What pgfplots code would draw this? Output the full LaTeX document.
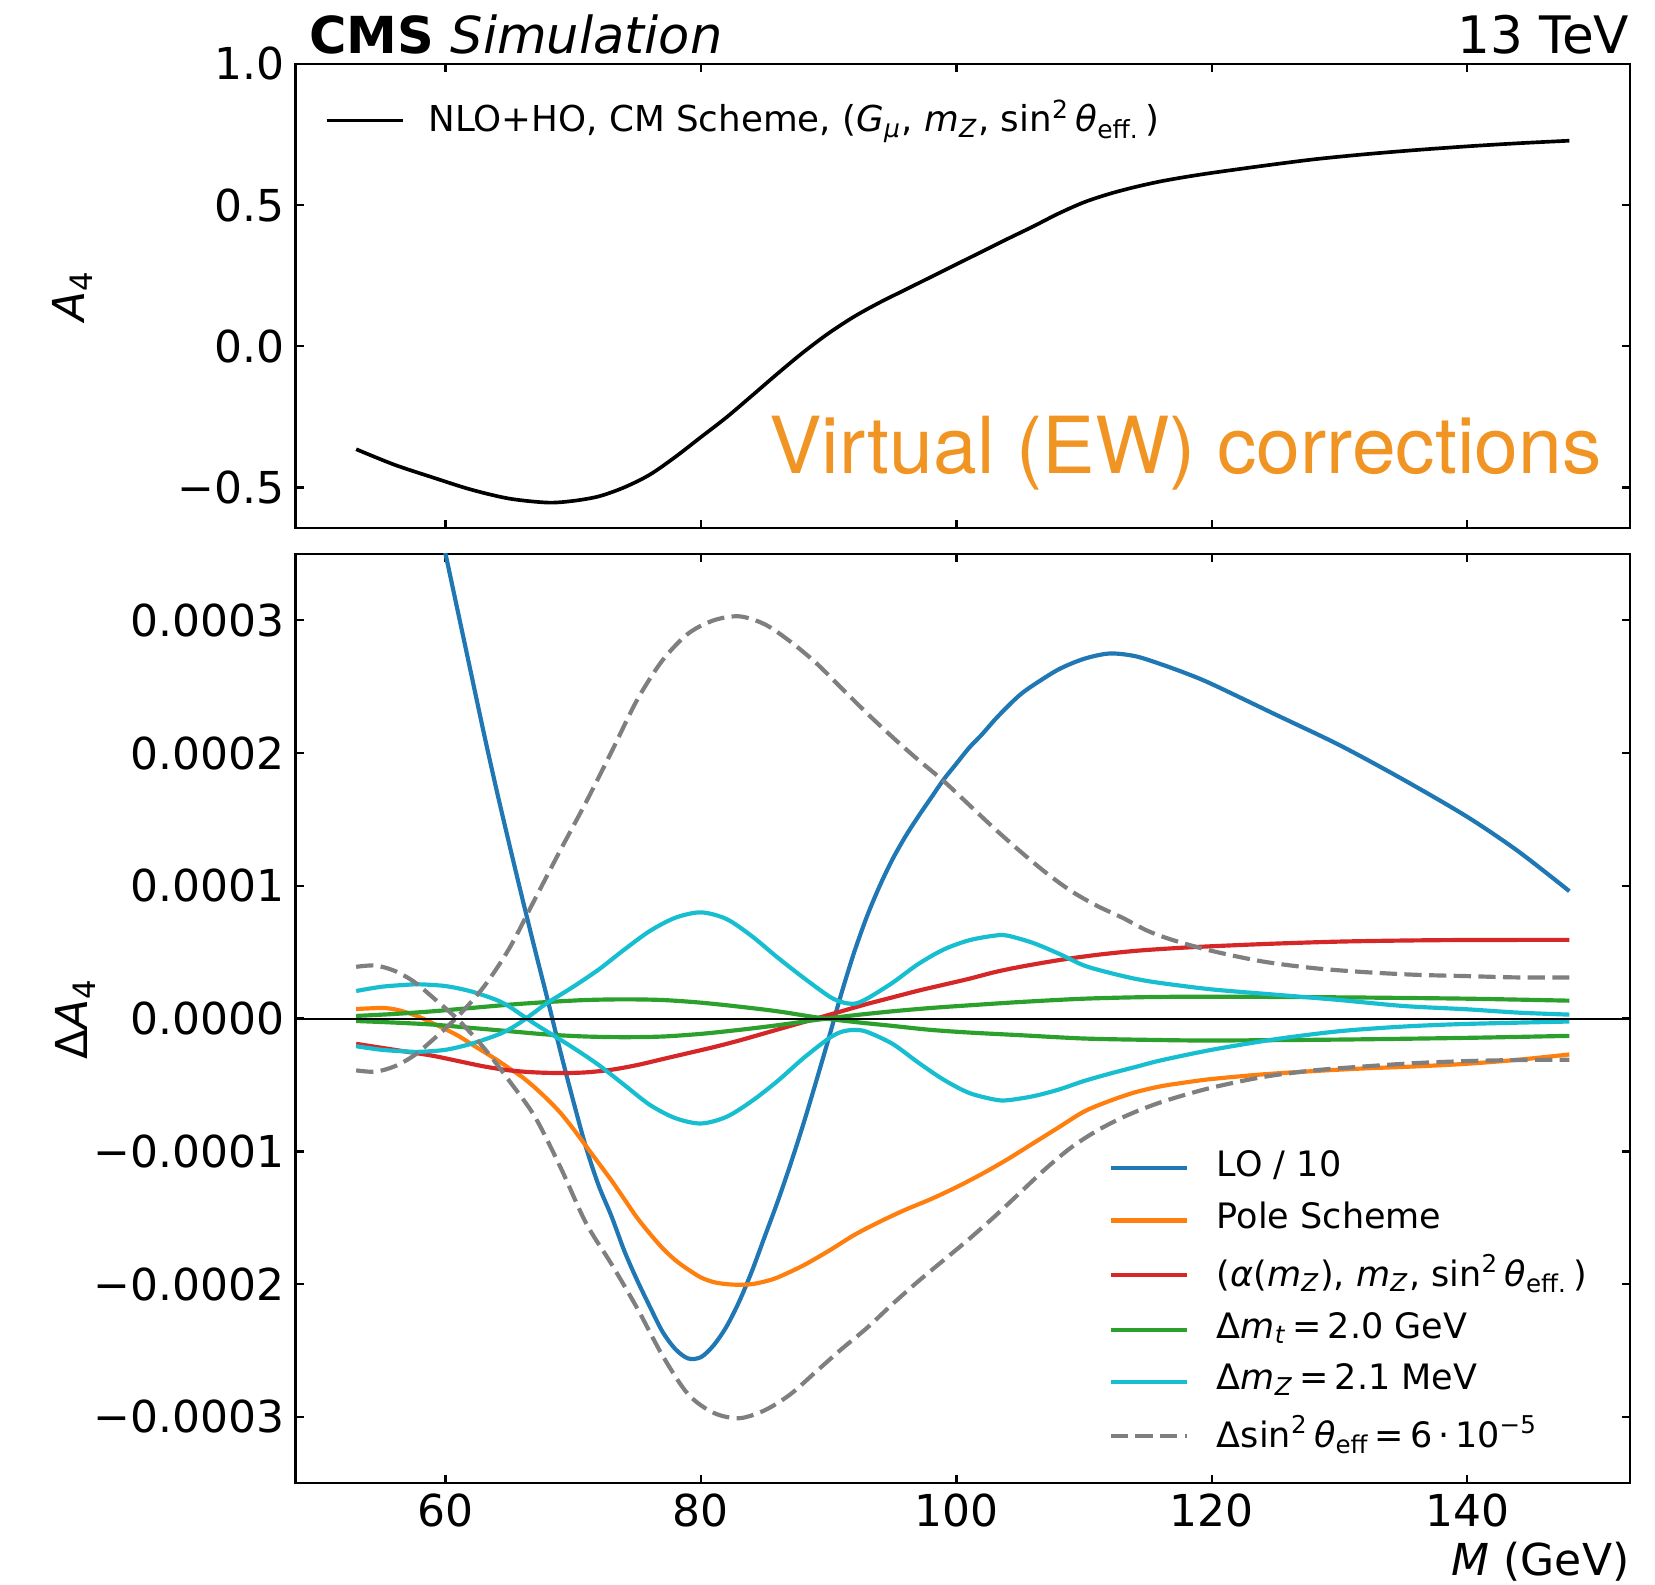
\documentclass[border=0pt]{standalone}
\usepackage{fontspec}
\setmainfont{DejaVu Sans}
\newfontfamily\helv{TeX Gyre Heros}
\usepackage{pgfplots}
\pgfplotsset{compat=1.18}
\definecolor{tabblue}{HTML}{1F77B4}
\definecolor{taborange}{HTML}{FF7F0E}
\definecolor{tabred}{HTML}{D62728}
\definecolor{tabgreen}{HTML}{2CA02C}
\definecolor{tabcyan}{HTML}{17BECF}
\definecolor{tabgray}{HTML}{7F7F7F}
\definecolor{evorange}{RGB}{240,148,36}
\newcommand{\sub}[1]{\textsubscript{#1}}
\newcommand{\sups}[1]{\textsuperscript{#1}}
\pgfplotsset{
  common/.style={
    scale only axis, width=400.35pt,
    xmin=48.25, xmax=152.75,
    axis line style={line width=0.7pt},
    tick align=inside, xtick pos=both, ytick pos=both,
    major tick length=2.5pt,
    every tick/.style={black, line width=0.7pt},
    xtick={60,80,100,120,140},
    tick label style={font=\fontsize{13.2}{15}\selectfont, inner sep=0pt},
    yticklabel style={xshift=-3.2pt},
    xticklabel style={yshift=-3pt},
    label style={font=\fontsize{13.2}{15}\selectfont, inner sep=0pt},
    legend cell align=left,
  }
}
\begin{document}
\begin{tikzpicture}[x=1pt,y=1pt]
\path[use as bounding box] (0,0) rectangle (496.5,475.5);
% ---------------- top panel ----------------
\begin{axis}[common, name=top,
  at={(88.65pt,317.01pt)}, anchor=south west, height=139.3pt,
  ymin=-0.645, ymax=1.0,
  ytick={-0.5,0,0.5,1}, yticklabels={−0.5,0.0,0.5,1.0},
  xticklabels={},
  ylabel={\textit{A}\sub{4}},
  ylabel style={at={(axis description cs:-0.167,0.5)}, anchor=center},
  legend style={draw=none, fill=none, at={(0.022,0.9226)}, anchor=north west,
    inner sep=0pt, outer sep=0pt, row sep=0pt, column sep=7pt,
    font=\fontsize{10.7}{12.8}\selectfont, nodes={inner sep=0pt}},
  legend image code/.code={\draw[#1] (0pt,-0.7pt) -- (23pt,-0.7pt);},
]
\addplot[black, line width=1.1pt, smooth] table {
53 -0.365
56 -0.420
59 -0.465
62 -0.508
65 -0.540
68 -0.554
70 -0.548
72 -0.532
74 -0.500
76 -0.455
78 -0.392
80 -0.322
82 -0.252
84 -0.175
86 -0.097
88 -0.022
90 0.046
92 0.105
94 0.155
96 0.200
98 0.245
100 0.290
102 0.335
104 0.380
106 0.424
108 0.470
110 0.510
112 0.540
114 0.564
116 0.584
118 0.600
120 0.614
124 0.639
128 0.662
132 0.680
136 0.695
140 0.708
144 0.719
148 0.728
};
\addlegendentry{NLO+HO, CM Scheme, (\textit{G}\sub{\textit{μ}}, \textit{m}\sub{\textit{Z}}, sin\sups{2}\,\textit{θ}\sub{eff.}\,)}
\end{axis}
% ---------------- bottom panel ----------------
\begin{axis}[common, name=bot,
  at={(88.65pt,30.51pt)}, anchor=south west, height=278.8pt,
  ymin=-3.5, ymax=3.5,
  ytick={-3,-2,-1,0,1,2,3},
  yticklabels={−0.0003,−0.0002,−0.0001,0.0000,0.0001,0.0002,0.0003},
  xticklabels={60,80,100,120,140},
  xlabel={\textit{M} (GeV)},
  xlabel style={at={(axis description cs:1,0)}, anchor=east, yshift=-23.5pt},
  ylabel={Δ\textit{A}\sub{4}},
  ylabel style={at={(axis description cs:-0.165,0.5)}, anchor=center},
  legend style={draw=none, fill=none, at={(0.6093,0.358)}, anchor=north west,
    inner sep=0pt, outer sep=0pt, row sep=6.25pt, column sep=8.25pt,
    font=\fontsize{10.5}{12.6}\selectfont, nodes={inner sep=0pt}},
  legend image code/.code={\draw[#1] (0pt,-0.7pt) -- (23pt,-0.7pt);},
]
% LO / 10
\addplot[tabblue, line width=1.25pt, smooth] table {
53 6.9
55 5.9
57 4.95
59 3.95
60 3.5
61 3.05
62 2.6
63 2.15
64 1.72
65 1.31
66 0.91
67 0.52
68 0.14
69 -0.25
70 -0.62
71 -0.97
72 -1.26
73 -1.49
74 -1.75
75 -1.97
76 -2.17
77 -2.36
78 -2.49
79 -2.56
80 -2.55
81 -2.46
82 -2.32
83 -2.13
84 -1.90
85 -1.64
86 -1.38
87 -1.10
88 -0.80
89 -0.48
90 -0.15
91 0.19
92 0.50
93 0.77
94 1.00
95 1.20
96 1.37
97 1.52
98 1.66
99 1.80
100 1.92
101 2.04
102 2.14
103 2.25
104 2.35
105 2.44
106 2.51
108 2.63
110 2.71
112 2.75
114 2.73
116 2.67
118 2.60
120 2.52
125 2.29
130 2.06
135 1.80
140 1.52
144 1.26
148 0.96
};
\addlegendentry{LO / 10}
% Pole scheme
\addplot[taborange, line width=1.25pt, smooth] table {
53 0.072
55 0.080
56 0.070
57 0.045
58 0.010
59 -0.035
60 -0.080
61 -0.130
62 -0.190
63 -0.250
64 -0.310
65 -0.375
66 -0.440
67 -0.520
68 -0.610
69 -0.710
70 -0.830
71 -0.960
72 -1.090
73 -1.220
74 -1.360
75 -1.500
76 -1.620
77 -1.730
78 -1.820
79 -1.890
80 -1.950
81 -1.985
82 -2.000
83 -2.005
84 -2.000
85 -1.980
86 -1.950
88 -1.860
90 -1.750
92 -1.630
94 -1.530
96 -1.440
98 -1.360
100 -1.270
102 -1.170
104 -1.060
106 -0.940
108 -0.820
110 -0.700
112 -0.620
114 -0.555
116 -0.510
118 -0.480
120 -0.455
124 -0.420
128 -0.395
132 -0.375
136 -0.360
140 -0.340
144 -0.310
148 -0.270
};
\addlegendentry{Pole Scheme}
% alpha(mZ) scheme
\addplot[tabred, line width=1.25pt, smooth] table {
53 -0.190
55 -0.220
57 -0.250
59 -0.280
61 -0.320
63 -0.360
65 -0.390
67 -0.405
69 -0.410
71 -0.405
73 -0.385
75 -0.350
77 -0.305
79 -0.260
81 -0.215
83 -0.165
85 -0.110
87 -0.055
89 0.000
91 0.055
93 0.110
95 0.160
97 0.210
99 0.255
101 0.300
103 0.350
105 0.390
108 0.440
111 0.480
114 0.510
117 0.530
120 0.545
125 0.565
130 0.580
135 0.588
140 0.592
148 0.593
};
\addlegendentry{(\textit{α}(\textit{m}\sub{\textit{Z}}), \textit{m}\sub{\textit{Z}}, sin\sups{2}\,\textit{θ}\sub{eff.}\,)}
% Delta m_t
\addplot[tabgreen, line width=1.25pt, smooth] table {
53 0.020
56 0.035
59 0.055
62 0.080
65 0.105
68 0.125
71 0.140
74 0.145
77 0.140
80 0.120
83 0.090
86 0.055
89 0.010
92 -0.025
95 -0.055
98 -0.085
101 -0.105
105 -0.125
110 -0.150
115 -0.160
120 -0.165
130 -0.158
140 -0.145
148 -0.130
};
\addlegendentry{Δ\textit{m}\sub{\textit{t}}\,=\,2.0 GeV}
\addplot[tabgreen, line width=1.25pt, smooth, forget plot] table {
53 -0.018
56 -0.030
59 -0.045
62 -0.070
65 -0.095
68 -0.120
71 -0.135
74 -0.140
77 -0.135
80 -0.115
83 -0.085
86 -0.050
89 -0.010
92 0.025
95 0.055
98 0.080
101 0.100
105 0.125
110 0.150
115 0.162
120 0.165
130 0.160
140 0.150
148 0.135
};
% Delta m_Z
\addplot[tabcyan, line width=1.25pt, smooth] table {
53 0.208
55 0.240
57 0.255
58 0.258
60 0.245
62 0.205
64 0.140
65 0.090
66 0.025
67 -0.040
68 -0.100
70 -0.220
72 -0.350
74 -0.500
76 -0.650
78 -0.750
80 -0.790
82 -0.740
84 -0.620
86 -0.470
88 -0.300
90 -0.150
91 -0.100
92 -0.085
93 -0.100
95 -0.190
97 -0.330
99 -0.460
101 -0.560
103 -0.610
104 -0.615
106 -0.585
108 -0.535
110 -0.470
112 -0.415
114 -0.365
116 -0.315
120 -0.235
125 -0.155
130 -0.095
135 -0.060
140 -0.040
148 -0.022
};
\addlegendentry{Δ\textit{m}\sub{\textit{Z}}\,=\,2.1 MeV}
\addplot[tabcyan, line width=1.25pt, smooth, forget plot] table {
53 -0.208
55 -0.235
57 -0.248
58 -0.250
60 -0.235
62 -0.190
64 -0.125
65 -0.080
66 -0.020
67 0.050
68 0.120
70 0.240
72 0.370
74 0.520
76 0.660
78 0.760
80 0.800
82 0.750
84 0.620
86 0.460
88 0.310
90 0.170
91 0.125
92 0.112
93 0.150
95 0.270
97 0.410
99 0.520
101 0.590
103 0.625
104 0.625
106 0.570
108 0.490
110 0.400
112 0.345
114 0.300
116 0.268
120 0.220
125 0.180
130 0.140
135 0.095
140 0.070
144 0.045
148 0.030
};
% Delta sin^2 theta_eff
\addplot[tabgray, line width=1.25pt, smooth, dash pattern=on 5.2pt off 2.2pt] table {
53 -0.39
54.5 -0.40
56 -0.36
57.5 -0.28
59 -0.16
61 0.02
63 0.24
65 0.53
67 0.90
69 1.27
71 1.63
73 2.01
75 2.40
77 2.70
79 2.90
81 3.00
83 3.03
85 2.97
87 2.84
89 2.68
91 2.49
93 2.30
95 2.12
97 1.95
99 1.79
101 1.61
103 1.43
105 1.26
107 1.10
109 0.96
111 0.85
113 0.76
115 0.66
117 0.59
120 0.51
124 0.43
128 0.38
132 0.35
136 0.33
140 0.32
144 0.31
148 0.31
};
\addlegendentry{Δsin\sups{2}\,\textit{θ}\sub{eff}\,=\,6\,·\,10\sups{−5}}
\addplot[tabgray, line width=1.25pt, smooth, dash pattern=on 5.2pt off 2.2pt, forget plot] table {
53 0.39
54.5 0.40
56 0.36
57.5 0.28
59 0.16
61 -0.01
63 -0.22
65 -0.47
67 -0.74
69 -1.12
71 -1.54
73 -1.85
75 -2.18
77 -2.54
79 -2.83
81 -2.97
83 -3.01
85 -2.95
87 -2.83
89 -2.66
91 -2.49
93 -2.33
95 -2.15
97 -1.98
99 -1.82
101 -1.66
103 -1.49
105 -1.31
107 -1.13
109 -0.97
111 -0.845
113 -0.745
115 -0.665
117 -0.60
120 -0.52
124 -0.44
128 -0.39
132 -0.36
136 -0.335
140 -0.32
144 -0.312
148 -0.31
};
\addplot[black, line width=0.6pt, forget plot] coordinates {(48.25,0) (152.75,0)};
\end{axis}
% titles and annotation
\node[anchor=base west, inner sep=0pt, font=\fontsize{15.3}{18}\selectfont]
  at ([xshift=4pt,yshift=3.2pt]top.north west) {\textbf{CMS} \textit{Simulation}};
\node[anchor=base east, inner sep=0pt, font=\fontsize{15.5}{18}\selectfont]
  at ([yshift=3.2pt]top.north east) {13 TeV};
\node[anchor=base east, inner sep=0pt, text=evorange, font=\helv\fontsize{23.6}{28}\selectfont]
  at ([xshift=-8.4pt,yshift=16.5pt]top.south east) {Virtual (EW) corrections};
\end{tikzpicture}
\end{document}
